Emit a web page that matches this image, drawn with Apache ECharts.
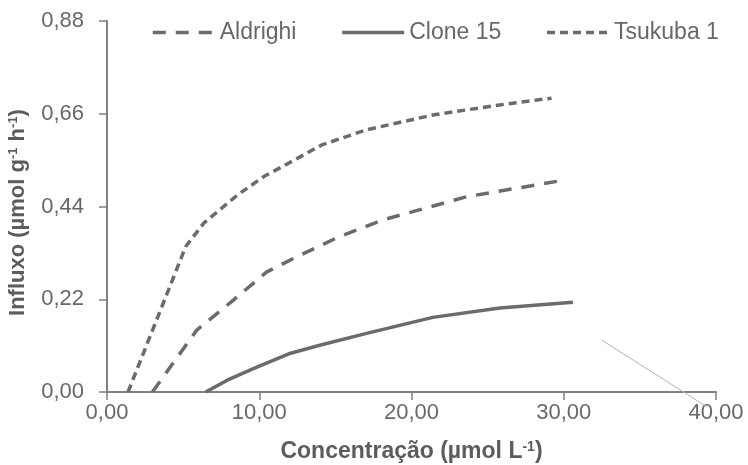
<!DOCTYPE html>
<html>
<head>
<meta charset="utf-8">
<script src="https://cdn.jsdelivr.net/npm/echarts@6/dist/echarts.min.js"></script>
<style>html,body{margin:0;padding:0;background:#fff;}#c{width:748px;height:465px;}</style>
</head>
<body>
<div id="c"></div>
<script>
var seriesNames = ['Aldrighi', 'Clone 15', 'Tsukuba 1'];
var aldrighi = [[2.98,0],[5.9,0.147],[8.3,0.218],[10.5,0.285],[12.7,0.325],[15.3,0.369],[18.1,0.408],[23.6,0.463],[30.1,0.503]];
var clone15 = [[6.48,0],[7.9,0.028],[9.65,0.056],[12.06,0.092],[14.1,0.112],[17.05,0.139],[21.4,0.177],[25.8,0.199],[30.6,0.213]];
var tsukuba1 = [[1.38,0],[5.17,0.345],[6.37,0.401],[8.56,0.467],[10.3,0.511],[12.3,0.55],[14.1,0.586],[17.05,0.622],[21.4,0.657],[25.8,0.681],[29.2,0.697]];
var strayLine = [[32.5,0.123],[39.4,-0.035]];
var xTicks = [0, 10, 20, 30, 40];
var yTicks = [0, 0.22, 0.44, 0.66, 0.88];

var fmt = function (v) { return v.toFixed(2).replace('.', ','); };
var chart = echarts.init(document.getElementById('c'));
var lineColor = '#6b6b6b';
var textColor = '#686868';
var titleColor = '#5c5c5c';
var font = '"Liberation Sans", Arial, sans-serif';
chart.setOption({
  animation: false,
  backgroundColor: '#fff',
  textStyle: { fontFamily: font },
  legend: {
    data: seriesNames,
    left: 146, top: 16,
    itemWidth: 62, itemHeight: 14, itemGap: 44,
    itemStyle: { opacity: 0 },
    lineStyle: { width: 3.5 },
    textStyle: { fontSize: 23, color: textColor, fontFamily: font }
  },
  grid: { left: 107, right: 32, top: 21, bottom: 73, outerBoundsMode: 'none' },
  xAxis: {
    type: 'value', min: xTicks[0], max: xTicks[xTicks.length - 1], interval: 10,
    name: '{a|Concentração (µmol L}{s|-1}{a|)}',
    nameLocation: 'middle', nameGap: 48,
    nameTextStyle: {
      rich: {
        a: { fontSize: 23, fontWeight: 'bold', color: titleColor, fontFamily: font },
        s: { fontSize: 14, fontWeight: 'bold', color: titleColor, fontFamily: font, verticalAlign: 'top', padding: [0, 0, 10, 0] }
      }
    },
    axisLine: { lineStyle: { color: '#808080', width: 2 } },
    axisTick: { show: true, inside: false, length: 8, lineStyle: { color: '#808080', width: 1.5 } },
    axisLabel: { formatter: fmt, fontSize: 22, color: textColor, margin: 10 },
    splitLine: { show: false }
  },
  yAxis: {
    type: 'value', min: yTicks[0], max: yTicks[yTicks.length - 1], interval: 0.22,
    name: '{a|Influxo (µmol g}{s|-1}{a| h}{s|-1}{a|)}',
    nameLocation: 'middle', nameGap: 78,
    nameTextStyle: {
      padding: [0, 12, 0, 0],
      rich: {
        a: { fontSize: 22, fontWeight: 'bold', color: titleColor, fontFamily: font },
        s: { fontSize: 13, fontWeight: 'bold', color: titleColor, fontFamily: font, verticalAlign: 'top', padding: [0, 0, 9, 0] }
      }
    },
    axisLine: { show: true, lineStyle: { color: '#808080', width: 2 } },
    axisTick: { show: true, inside: false, length: 8, lineStyle: { color: '#808080', width: 1.5 } },
    axisLabel: { formatter: fmt, fontSize: 22, color: textColor, margin: 23 },
    splitLine: { show: false }
  },
  series: [
    { name: seriesNames[0], type: 'line', data: aldrighi, symbol: 'none',
      lineStyle: { color: lineColor, width: 3.5, type: [13, 10] }, itemStyle: { color: lineColor } },
    { name: seriesNames[1], type: 'line', data: clone15, symbol: 'none',
      lineStyle: { color: lineColor, width: 3.5, type: 'solid' }, itemStyle: { color: lineColor } },
    { name: seriesNames[2], type: 'line', data: tsukuba1, symbol: 'none',
      lineStyle: { color: lineColor, width: 3.5, type: [8, 5] }, itemStyle: { color: lineColor } },
    { name: 'stray', type: 'line', data: strayLine, symbol: 'none', silent: true,
      lineStyle: { color: '#b5b5b5', width: 1 }, clip: false }
  ]
});
</script>
</body>
</html>
